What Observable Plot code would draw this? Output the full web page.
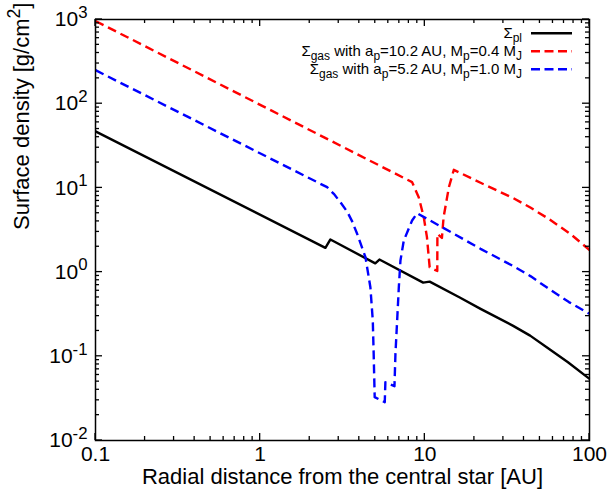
<!DOCTYPE html>
<html><head><meta charset="utf-8">
<script src="https://cdn.jsdelivr.net/npm/d3@7"></script>
<script src="https://cdn.jsdelivr.net/npm/@observablehq/plot@0.6"></script>
<style>body{margin:0;background:#fff} svg{display:block}</style>
</head><body><div id="chart"></div>
<script>
// Σ_pl (solid black)
const plR = [0.1, 2.49, 2.67, 5.0, 5.3, 9.77, 10.7, 16.3, 21.8, 34.4, 43.6, 55.5, 74, 100];
const plS = [47, 1.94, 2.44, 1.27, 1.41, 0.75, 0.77, 0.50, 0.366, 0.23, 0.176, 0.126, 0.085, 0.054];
// Σ_gas, a_p = 10.2 AU, M_p = 0.4 M_J (red dashed)
const gasAR = [0.1, 8.37, 9.18, 9.85, 10.3, 10.7, 11.9, 11.92, 12.7, 13.0, 14.0, 15.0, 21.8, 34.4, 44, 55.5, 76.6, 100];
const gasAS = [960, 11.7, 7.76, 4.49, 2.60, 1.14, 1.03, 2.85, 2.55, 4.49, 10.2, 16.4, 11.5, 7.57, 5.8, 4.39, 2.84, 1.83];
// Σ_gas, a_p = 5.2 AU, M_p = 1.0 M_J (blue dashed)
const gasBR = [0.1, 2.55, 2.80, 3.07, 3.38, 3.62, 3.88, 4.36, 4.67, 4.83, 4.89, 4.96, 5.71, 5.76, 6.54, 6.63, 6.79, 6.95, 7.11, 7.45, 8.37, 8.98, 21.8, 34.4, 44, 55.5, 75, 100];
const gasBS = [250, 10.2, 8.5, 6.76, 5.2, 4.0, 2.85, 1.5, 0.66, 0.266, 0.107, 0.0327, 0.0285, 0.0492, 0.0442, 0.107, 0.266, 0.66, 1.37, 2.37, 4.1, 5.0, 1.89, 1.18, 0.89, 0.65, 0.44, 0.32];

const xMajor = [0.1, 1, 10, 100];
const yMajor = [0.01, 0.1, 1, 10, 100, 1000];
const xMinor = [0.1, 1, 10].flatMap(d => [2,3,4,5,6,7,8,9].map(k => +(d*k).toPrecision(3)));
const yMinor = [0.01, 0.1, 1, 10, 100].flatMap(d => [2,3,4,5,6,7,8,9].map(k => +(d*k).toPrecision(3)));

const xTitle = "Radial distance from the central star [AU]";
const yTitle = "Surface density [g/cm^{2}]";
const legendLabels = ["Σ_{pl}", "Σ_{gas} with a_{p}=10.2 AU, M_{p}=0.4 M_{J}", "Σ_{gas} with a_{p}=5.2 AU, M_{p}=1.0 M_{J}"];
const legendColors = ["#000000", "#ff0000", "#0000ff"];
const legendDash = [null, "9,4.5", "9,4.5"];

const toRows = (R, S) => R.map((r, i) => ({r, s: S[i]}));
const FONT = "'Liberation Sans', Arial, Helvetica, sans-serif";

const plot = Plot.plot({
  width: 611, height: 492,
  marginLeft: 95, marginRight: 22, marginTop: 19, marginBottom: 52,
  style: {fontFamily: FONT, background: "#fff", color: "#000"},
  x: {type: "log", domain: [0.1, 100]},
  y: {type: "log", domain: [0.01, 1000]},
  marks: [
    Plot.line(toRows(plR, plS), {x: "r", y: "s", stroke: legendColors[0], strokeWidth: 2.4, strokeLinecap: "butt"}),
    Plot.line(toRows(gasAR, gasAS), {x: "r", y: "s", stroke: legendColors[1], strokeWidth: 2.4, strokeDasharray: "9,5", strokeLinecap: "butt"}),
    Plot.line(toRows(gasBR, gasBS), {x: "r", y: "s", stroke: legendColors[2], strokeWidth: 2.4, strokeDasharray: "9,5", strokeLinecap: "butt"}),
    Plot.axisX({anchor: "bottom", ticks: xMajor, tickSize: 0, tickPadding: 6, tickFormat: d => String(d), fontSize: 21, label: null}),
    Plot.axisY({anchor: "left", ticks: yMajor, tickSize: 0, tickPadding: 8, tickFormat: d => "10^{" + Math.round(Math.log10(d)) + "}", fontSize: 21, label: null}),
    Plot.frame({stroke: "#000", strokeWidth: 1.5}),
    Plot.text([xTitle], {frameAnchor: "bottom", dy: 43, fontSize: 22}),
    Plot.text([yTitle], {frameAnchor: "left", dx: -74, rotate: -90, fontSize: 22})
  ]
});
document.getElementById("chart").append(plot);

const svg = d3.select(plot);
// inward-pointing ticks on all four sides, placed with Plot's own scales
const sx = plot.scale("x"), sy = plot.scale("y");
const X0 = sx.apply(0.1), X1 = sx.apply(100), Y0 = sy.apply(1000), Y1 = sy.apply(0.01);
const tick = (x1, y1, x2, y2) => svg.append("line")
  .attr("x1", x1).attr("y1", y1).attr("x2", x2).attr("y2", y2)
  .attr("stroke", "#000").attr("stroke-width", 1.3);
[[xMajor, 7], [xMinor, 4]].forEach(([ticks, len]) => ticks.forEach(v => {
  const px = sx.apply(v);
  tick(px, Y1, px, Y1 - len);
  tick(px, Y0, px, Y0 + len);
}));
[[yMajor, 7], [yMinor, 4]].forEach(([ticks, len]) => ticks.forEach(v => {
  const py = sy.apply(v);
  tick(X0, py, X0 + len, py);
  tick(X1, py, X1 - len, py);
}));

const lg = svg.append("g").attr("font-family", FONT).attr("font-size", 15);
legendLabels.forEach((t, i) => {
  const y = 33.3 + i * 18;
  lg.append("text").attr("x", 522).attr("y", y + 4.5).attr("text-anchor", "end").attr("fill", "#000").text(t);
  const ln = lg.append("line").attr("x1", 531).attr("x2", 572).attr("y1", y).attr("y2", y)
    .attr("stroke", legendColors[i]).attr("stroke-width", 2.4);
  if (legendDash[i]) ln.attr("stroke-dasharray", legendDash[i]);
});

// gnuplot-style enhanced text: ^{..} superscript, _{..} subscript
function enhance(el) {
  const s = el.textContent;
  if (!/[\^_]\{/.test(s)) return;
  const base = parseFloat(getComputedStyle(el).fontSize) || 16;
  while (el.firstChild) el.removeChild(el.firstChild);
  const ns = "http://www.w3.org/2000/svg";
  const re = /([\^_])\{([^}]*)\}/g;
  let last = 0, shift = 0, m;
  const add = (txt, dy, size) => {
    const t = document.createElementNS(ns, "tspan");
    if (dy) t.setAttribute("dy", dy);
    if (size) t.setAttribute("font-size", size);
    t.textContent = txt;
    el.appendChild(t);
  };
  while ((m = re.exec(s))) {
    if (m.index > last) { add(s.slice(last, m.index), -shift, null); shift = 0; }
    const d = m[1] === "^" ? -0.4 * base : 0.3 * base;
    add(m[2], d - shift, 0.8 * base);
    shift = d;
    last = re.lastIndex;
  }
  if (last < s.length) add(s.slice(last), -shift, null);
}
plot.querySelectorAll("text").forEach(enhance);
</script>
</body></html>
